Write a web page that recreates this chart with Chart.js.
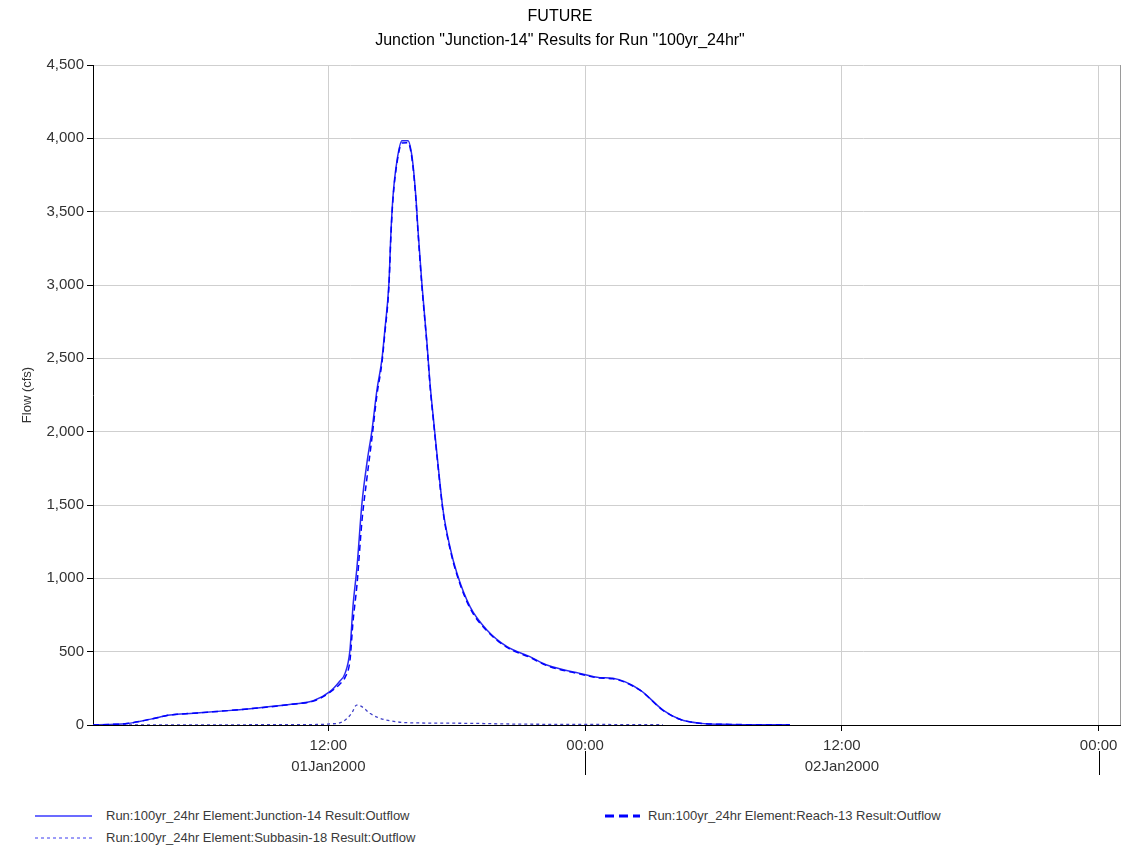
<!DOCTYPE html>
<html>
<head>
<meta charset="utf-8">
<script src="https://cdn.jsdelivr.net/npm/chart.js@4.4.0/dist/chart.umd.min.js"></script>
<style>
  body { margin: 0; background: #fff; font-family: "Liberation Sans", Arial, sans-serif; }
  #wrap { position: relative; width: 1139px; height: 848px; }
  #chart { position: absolute; left: 0; top: 0; }
  .leg { position: absolute; font-size: 13px; color: #3a3a3a; white-space: nowrap; line-height: 16px; }
  .leg svg { position: absolute; }
</style>
</head>
<body>
<div id="wrap">
  <canvas id="chart" width="1139" height="790"></canvas>
  <div id="legend"></div>
</div>
<script>
// hours since 00:00 01Jan2000
const junctionHours = [1.0, 1.8, 2.6, 3.7, 4.6, 5.7, 7.3, 8.8, 10.35, 11.3,
  12.07, 12.54, 12.78, 13.01, 13.15, 13.34, 13.57, 13.8, 14.04, 14.27,
  14.5, 14.64, 14.83, 14.93, 15.02, 15.21, 15.44, 15.72, 15.91, 16.09,
  16.19, 16.37, 16.61, 16.75, 16.93, 17.12, 17.36, 17.68, 18.01, 18.62,
  19.41, 20.35, 21.42, 22.21, 23.76, 24.69, 25.3, 26.56, 27.64, 28.43,
  29.36, 30.77, 32.17, 33.57];
const junctionFlow = [0, 4, 10, 40, 68, 80, 98, 118, 143, 165,
  227, 300, 352, 511, 807, 1080, 1511, 1784, 2011, 2284,
  2489, 2693, 3011, 3375, 3602, 3850, 3984, 3984, 3875, 3602,
  3375, 3011, 2602, 2330, 2060, 1784, 1466, 1216, 1034, 807,
  648, 534, 466, 409, 352, 323, 318, 239, 102, 39,
  12, 4, 2, 1];
const reachFlow = [0, 4, 10, 40, 68, 80, 98, 117, 142, 163,
  222, 280, 325, 440, 700, 960, 1390, 1680, 1960, 2250,
  2465, 2670, 2990, 3355, 3585, 3835, 3968, 3970, 3860, 3588,
  3360, 2997, 2590, 2318, 2048, 1772, 1455, 1205, 1024, 797,
  642, 529, 461, 405, 348, 320, 315, 237, 100, 39,
  12, 4, 2, 1];
const subbasinHours = [1.0, 5, 10, 11.3, 12.07, 12.68, 13.09, 13.32, 13.56, 13.94,
  14.3, 14.72, 15.65, 17.21, 18.76, 20.95, 23.76, 27.64];
const subbasinFlow = [0, 1, 2, 3, 7, 23, 80, 136, 125, 80,
  52, 34, 16, 13, 11, 6, 4, 2];

const xTickHours = [12, 24, 36, 48];
const xTickLabels = [['12:00', '01Jan2000'], '00:00', ['12:00', '02Jan2000'], '00:00'];
const dayBreakHours = [24, 48];

const seriesNames = [
  'Run:100yr_24hr Element:Junction-14 Result:Outflow',
  'Run:100yr_24hr Element:Reach-13 Result:Outflow',
  'Run:100yr_24hr Element:Subbasin-18 Result:Outflow'
];

const pts = (xs, ys) => xs.map((h, i) => ({ x: h, y: ys[i] }));

// right border + the long day-break marks under the axis
const frame = {
  id: 'frame',
  afterDraw(chart) {
    const { ctx, chartArea: a, scales: { x } } = chart;
    ctx.save();
    ctx.lineWidth = 1;
    ctx.strokeStyle = '#9a9a9a';
    ctx.beginPath();
    ctx.moveTo(a.right + 0.5, a.top);
    ctx.lineTo(a.right + 0.5, a.bottom);
    ctx.stroke();
    ctx.strokeStyle = '#000';
    dayBreakHours.forEach(h => {
      const px = Math.round(x.getPixelForValue(h)) + 0.5;
      ctx.beginPath();
      ctx.moveTo(px, a.bottom + 26);
      ctx.lineTo(px, a.bottom + 50);
      ctx.stroke();
    });
    ctx.restore();
  }
};

const chart = new Chart(document.getElementById('chart'), {
  type: 'line',
  data: {
    datasets: [{
      label: seriesNames[1],
      data: pts(junctionHours, reachFlow),
      borderColor: '#0000ff',
      borderWidth: 1.5,
      borderDash: [6, 4],
      legendColor: '#0000ff', legendWidth: 3, legendDash: [9, 5]
    }, {
      label: seriesNames[2],
      data: pts(subbasinHours, subbasinFlow),
      borderColor: '#4040c8',
      borderWidth: 1.3,
      borderDash: [3, 3],
      legendColor: '#3b3bf0', legendWidth: 1, legendDash: [3, 3]
    }, {
      label: seriesNames[0],
      data: pts(junctionHours, junctionFlow),
      borderColor: '#2a2af0',
      borderWidth: 1.5,
      legendColor: '#6b6bff', legendWidth: 2, legendDash: []
    }]
  },
  options: {
    responsive: false,
    animation: false,
    parsing: false,
    elements: { point: { radius: 0 }, line: { tension: 0.3, cubicInterpolationMode: 'monotone' } },
    layout: { padding: { left: 0, right: 19, top: 0, bottom: 0 } },
    plugins: {
      legend: { display: false },
      tooltip: { enabled: false },
      title: {
        display: true,
        text: ['FUTURE', 'Junction "Junction-14" Results for Run "100yr_24hr"'],
        color: '#000',
        font: { family: 'Liberation Sans', size: 16, weight: 'normal', lineHeight: 1.5 },
        padding: { top: 5, bottom: 12 }
      }
    },
    scales: {
      x: {
        type: 'linear',
        min: 1,
        max: 49,
        afterBuildTicks: s => { s.ticks = xTickHours.map(v => ({ value: v })); },
        afterFit: s => { s.height = 65; },
        ticks: {
          callback: (v, i) => xTickLabels[i],
          color: '#333',
          font: { family: 'Liberation Sans', size: 15, lineHeight: 1.4 },
          padding: 4,
          maxRotation: 0
        },
        grid: { color: '#cfcfcf', tickColor: '#000', tickLength: 6 },
        border: { color: '#000' }
      },
      y: {
        min: 0,
        max: 4500,
        afterFit: s => { s.width = 93; },
        ticks: {
          stepSize: 500,
          callback: v => v.toLocaleString('en-US'),
          color: '#333',
          font: { family: 'Liberation Sans', size: 15 },
          padding: 3
        },
        grid: { color: '#cfcfcf', tickColor: '#000', tickLength: 6 },
        border: { color: '#000' },
        title: {
          display: true,
          text: 'Flow (cfs)',
          color: '#333',
          font: { family: 'Liberation Sans', size: 13 },
          padding: { top: 20, bottom: 0 }
        }
      }
    }
  },
  plugins: [frame]
});

// HTML legend in two columns, built from the chart's datasets
const legendSpots = [
  { name: seriesNames[0], left: 35, top: 808, lineW: 57, textLeft: 106 },
  { name: seriesNames[1], left: 605, top: 808, lineW: 35, textLeft: 648 },
  { name: seriesNames[2], left: 35, top: 830, lineW: 57, textLeft: 106 }
];
const legendBox = document.getElementById('legend');
legendSpots.forEach(spot => {
  const ds = chart.data.datasets.find(d => d.label === spot.name);
  const item = document.createElement('div');
  item.className = 'leg';
  item.style.left = spot.left + 'px';
  item.style.top = spot.top + 'px';
  item.innerHTML =
    '<svg width="' + spot.lineW + '" height="6" style="left:0;top:5px">' +
    '<line x1="0" y1="3" x2="' + spot.lineW + '" y2="3" stroke="' + ds.legendColor +
    '" stroke-width="' + ds.legendWidth + '" stroke-dasharray="' + ds.legendDash.join(',') + '"/></svg>' +
    '<span style="position:absolute;left:' + (spot.textLeft - spot.left) + 'px;top:0">' + ds.label + '</span>';
  legendBox.appendChild(item);
});
</script>
</body>
</html>
